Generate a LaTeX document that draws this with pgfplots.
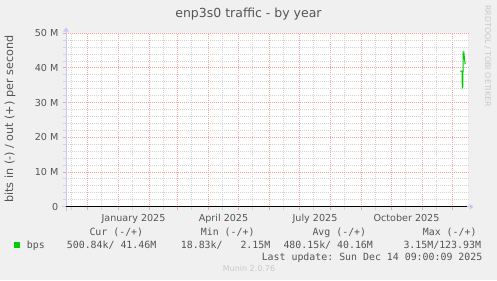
\documentclass[border=0pt]{standalone}
\usepackage{pgfplots}
\pgfplotsset{compat=1.18}
\usepackage{fontspec}
\setmainfont{DejaVu Sans}
\setmonofont{DejaVu Sans Mono}
\definecolor{bg}{HTML}{F0F0F0}
\definecolor{gridred}{HTML}{F5A3A3}
\definecolor{gridgray}{HTML}{D4D4D4}
\definecolor{txt}{HTML}{555555}
\definecolor{axblue}{HTML}{C8C8F5}
\definecolor{lightt}{HTML}{C8C8C8}
\definecolor{munin}{HTML}{00CC00}
\begin{document}
\begin{tikzpicture}[x=1bp,y=1bp]
\fill[bg] (0,0) rectangle (497,280);
\begin{axis}[
  at={(65.5bp,73.3bp)}, anchor=south west,
  scale only axis, width=402.5bp, height=173.4bp,
  xmin=0, xmax=402.5, ymin=0, ymax=50,
  clip=false,
  axis background/.style={fill=white},
  axis lines=left, axis line style={draw=none},
  tick align=outside,
  xtick={22,53,84,112,143,173,204,234,265,296,326,357,387},
  xticklabels={},
  minor xtick={6,36,67,98,126,157,187,218,248,279,310,340,371},
  extra x ticks={68,158,249.5,341},
  extra x tick labels={January 2025,April 2025,July 2025,October 2025},
  extra x tick style={grid=none, major tick length=0pt},
  ytick={0,10,20,30,40,50},
  yticklabels={\mbox{0},\mbox{10 M},\mbox{20 M},\mbox{30 M},\mbox{40 M},\mbox{50 M}},
  minor ytick={2,4,6,8,12,14,16,18,22,24,26,28,32,34,36,38,42,44,46,48},
  grid=both,
  major grid style={gridred, line width=1bp, dash pattern=on 1bp off 1bp},
  minor grid style={gridgray, line width=1bp, dash pattern=on 1bp off 1bp},
  major tick length=3bp, minor tick length=3bp,
  major tick style={gridred, line width=1bp},
  minor tick style={gridgray, line width=1bp},
  tick label style={font=\fontsize{9.6bp}{11bp}\selectfont, text=txt},
  xticklabel style={anchor=base, inner sep=0pt, yshift=-14.3bp},
  yticklabel style={anchor=east, inner sep=0pt, xshift=-4bp},
]
\addplot[munin, line width=1bp] coordinates {
(394.5,39.1) (396.5,39.1) (396.8,34.3) (397.4,34.6) (397.6,44.9) (398.3,42.5) (398.7,43.5) (399.5,41.3) (400,41.5)
};
\end{axis}
% axis lines
\draw[axblue, line width=1bp] (66,69) -- (66,249);
\fill[axblue] (63,248.3) -- (69,248.3) -- (66,252.7) -- cycle;
\draw[axblue, line width=1bp] (62,73.3) -- (470,73.3);
\fill[axblue] (469.5,70.3) -- (469.5,76.3) -- (473.5,73.3) -- cycle;
\draw[black, line width=1.4bp] (66,73.3) -- (467,73.3);
% texts
\node[anchor=base, inner sep=0, text=txt, font=\fontsize{12.5bp}{14bp}\selectfont] at (248.5,262.5) {enp3s0 traffic - by year};
\node[rotate=90, inner sep=0, text=txt, font=\fontsize{11.2bp}{13bp}\selectfont] at (10,160.8) {bits in (-) / out (+) per second};
\node[rotate=-90, inner sep=0, text=lightt, font=\fontsize{7.9bp}{9bp}\selectfont] at (487.7,224) {RRDTOOL / TOBI OETIKER};
\begin{scope}[every node/.style={anchor=base west, inner sep=0, text=txt, font=\fontsize{9.9bp}{11bp}\ttfamily}]
\node at (89.3,45) {Cur (-/+)};
\node at (200.7,45) {Min (-/+)};
\node at (312.3,45) {Avg (-/+)};
\node at (422.7,45) {Max (-/+)};
\node at (26.7,31.7) {bps};
\node at (66.7,31.7) {500.84k/ 41.46M};
\node at (180.7,31.7) {18.83k/\ \ \ 2.15M};
\node at (283.3,31.7) {480.15k/ 40.16M};
\node at (403.3,31.7) {3.15M/123.93M};
\node[anchor=base east] at (482.5,20) {Last update: Sun Dec 14 09:00:09 2025};
\end{scope}
\fill[munin] (14,32.3) rectangle (20,38.3);
\node[anchor=base, inner sep=0, text=lightt, font=\fontsize{8bp}{9bp}\selectfont] at (249,8.3) {Munin 2.0.76};
\pgfresetboundingbox
\path (0,0) rectangle (497,280);
\end{tikzpicture}
\end{document}
